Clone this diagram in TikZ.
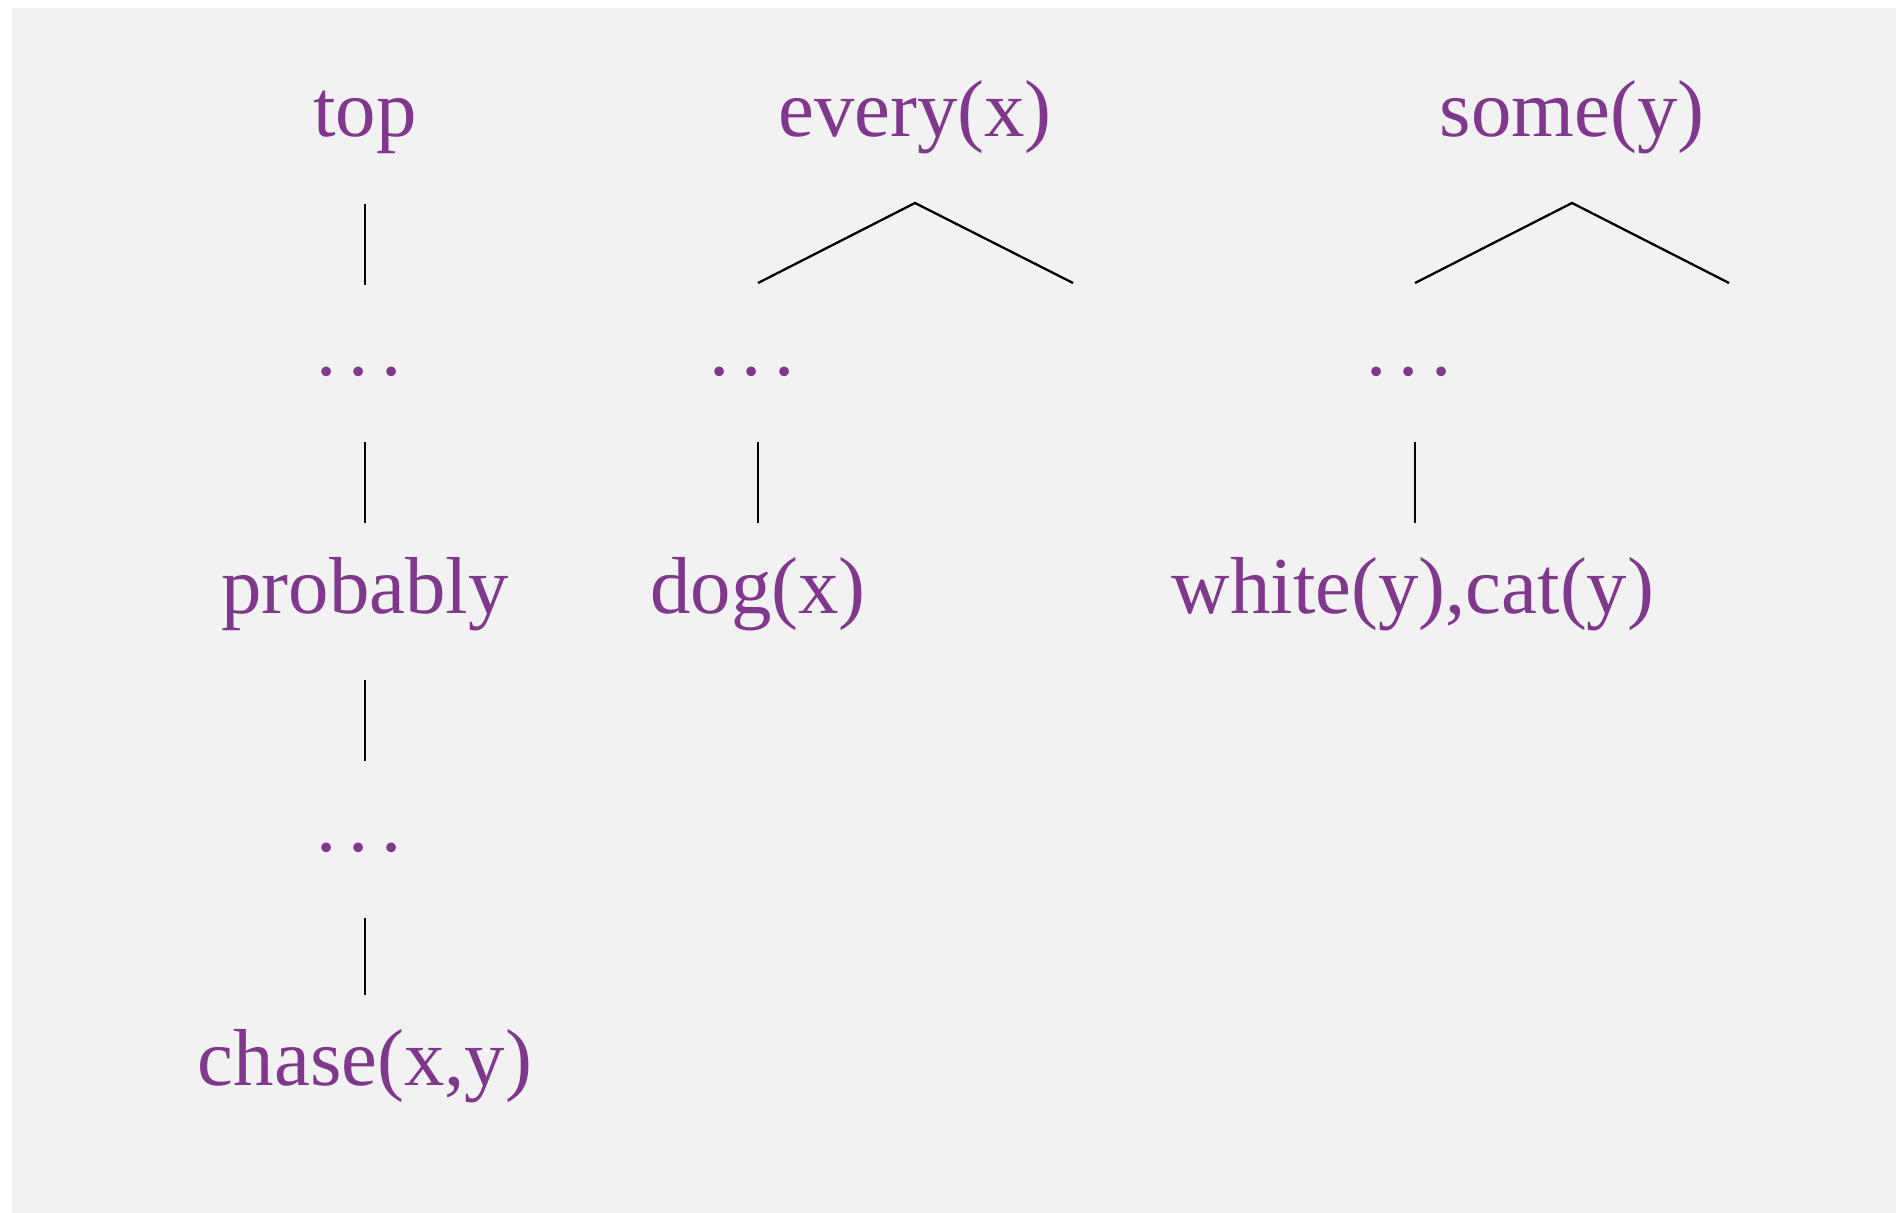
\documentclass[tikz,border=0pt]{standalone}
\usepackage{fontspec}
\setmainfont{Liberation Serif}
\definecolor{termpurple}{RGB}{127,56,140}
\definecolor{panelgrey}{RGB}{242,242,242}
\newcommand{\dotrow}{.\kern0.15em.\kern0.15em.\kern0.15em}
\begin{document}
\begin{tikzpicture}[x=0.02cm,y=-0.02cm,
	every node/.style={text=termpurple, font=\fontsize{46}{55}\selectfont, anchor=base, inner sep=0pt},
	link/.style={draw=black, line width=1.3pt, shorten <=1.34cm, shorten >=1.8cm}]
	
	\useasboundingbox (0,0) rectangle (1896,1213);
	\fill[panelgrey] (12,8) rectangle (1896,1213);
	
	\node (top) at (365,137) {top};
	\node (d1) at (365,375) {\dotrow};
	\node (prob) at (365,613) {probably};
	\node (d4) at (365,851) {\dotrow};
	\node (chase) at (365,1085) {chase(x,y)};
	
	\node (every) at (915,137) {every(x)};
	\node (d2) at (758,375) {\dotrow};
	\node (dog) at (758,613) {dog(x)};
	
	\node (some) at (1572,137) {some(y)};
	\node (d3) at (1415,375) {\dotrow};
	\node (white) at (1413,613) {white(y),cat(y)};
	
	\coordinate (every apex) at ([yshift=-1.32cm]every.base);
	\coordinate (every right) at (1073,283);
	\coordinate (some apex) at ([yshift=-1.32cm]some.base);
	\coordinate (some right) at (1729,283);
	
	\path (top.base) edge[link] (d1.base);
	\path (d1.base) edge[link] (prob.base);
	\path (prob.base) edge[link] (d4.base);
	\path (d4.base) edge[link] (chase.base);
	\path (d2.base) edge[link] (dog.base);
	\path (d3.base) edge[link] (white.base -| d3.base);
	
	\draw[line width=1.3pt] ([yshift=1.84cm]d2.base) -- (every apex) -- (every right);
	\draw[line width=1.3pt] ([yshift=1.84cm]d3.base) -- (some apex) -- (some right);
	
\end{tikzpicture}
\end{document}
